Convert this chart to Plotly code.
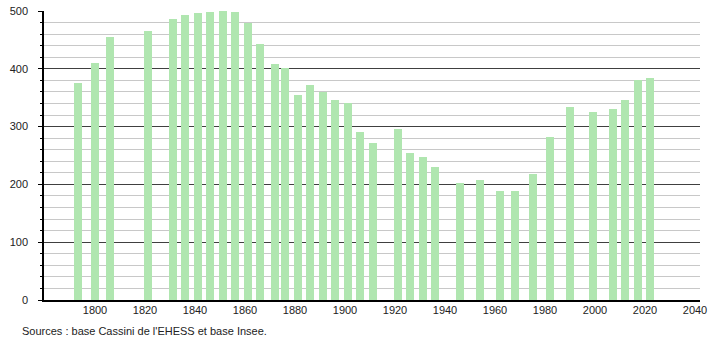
import plotly.graph_objects as go

years = [1793, 1800, 1806, 1821, 1831, 1836, 1841, 1846, 1851, 1856,
         1861, 1866, 1872, 1876, 1881, 1886, 1891, 1896, 1901, 1906,
         1911, 1921, 1926, 1931, 1936, 1946, 1954, 1962, 1968, 1975,
         1982, 1990, 1999, 2007, 2012, 2017, 2022]
population = [375, 410, 455, 465, 486, 493, 497, 498, 500, 498,
              479, 443, 408, 401, 355, 372, 360, 346, 340, 291,
              272, 296, 254, 247, 230, 202, 208, 189, 189, 218,
              282, 334, 325, 330, 346, 381, 384]
x_ticks = [1800, 1820, 1840, 1860, 1880, 1900, 1920, 1940, 1960, 1980, 2000, 2020, 2040]
y_ticks = [0, 100, 200, 300, 400, 500]
source_text = "Sources : base Cassini de l'EHESS et base Insee."

fig = go.Figure()
fig.add_trace(go.Bar(
    x=years, y=population, width=3.2,
    marker=dict(color="#b0e6b0", line=dict(width=0)),
    hoverinfo="x+y",
))

fig.update_layout(
    width=710, height=340,
    margin=dict(l=44, r=10, t=11, b=40, autoexpand=False),
    paper_bgcolor="white", plot_bgcolor="white",
    showlegend=False,
    font=dict(family="Liberation Sans, Arial, sans-serif", size=11, color="#222"),
    bargap=0,
)
fig.update_xaxes(
    range=[1779.6, 2042], tickvals=x_ticks, ticktext=[str(v) for v in x_ticks],
    showgrid=False, showline=True, linecolor="black", linewidth=1.5,
    ticks="", zeroline=False, ticklabelstandoff=-1, automargin=False,
)
fig.update_yaxes(
    range=[0, 500], tickvals=y_ticks,
    showgrid=True, gridcolor="#404040", gridwidth=1,
    showline=True, linecolor="black", linewidth=1.5,
    ticks="outside", ticklen=4, tickcolor="black",
    minor=dict(dtick=20, showgrid=True, gridcolor="#c8c8c8", gridwidth=1,
               ticks="outside", ticklen=2, tickcolor="black"),
    zeroline=False, ticklabelstandoff=8, automargin=False,
)
fig.add_annotation(
    text=source_text, xref="paper", yref="paper",
    x=-44/656, y=-31/289, xanchor="left", yanchor="middle",
    showarrow=False, font=dict(size=11, color="#222"), xshift=20,
)

fig.write_html("out.html")
